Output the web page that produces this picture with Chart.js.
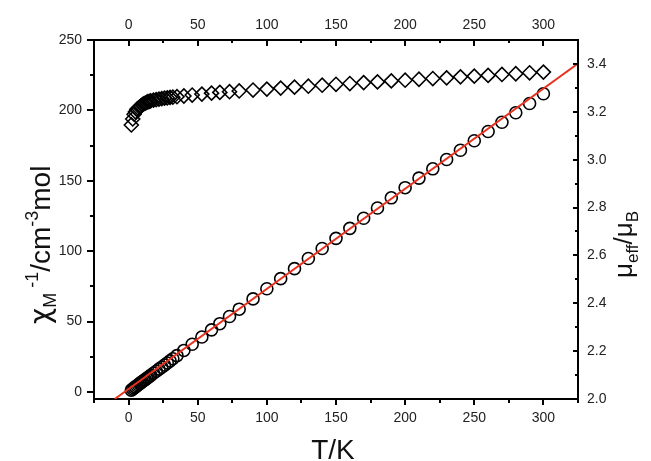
<!DOCTYPE html>
<html>
<head>
<meta charset="utf-8">
<script src="https://cdn.jsdelivr.net/npm/chart.js@4.4.0/dist/chart.umd.min.js"></script>
<style>
  html, body { margin: 0; padding: 0; background: #fff; }
  #wrap { width: 651px; height: 461px; }
</style>
</head>
<body>
<div id="wrap"><canvas id="susceptibility-chart"></canvas></div>
<script>
// Temperature points (K), shared by both series
const temps = [2, 3, 4, 5, 6, 7, 8, 9, 10, 11, 12, 13, 14, 15, 16, 18, 20, 22, 24, 26, 28, 30, 32, 35,
  40, 46, 53, 60, 66, 73, 80, 90, 100, 110, 120, 130, 140, 150, 160, 170, 180, 190, 200,
  210, 220, 230, 240, 250, 260, 270, 280, 290, 300];
// chi_M^-1 (cm^-3 mol), left axis, circles
const chiInv = [1.3, 2.1, 2.9, 3.6, 4.4, 5.1, 5.9, 6.6, 7.4, 8.1, 8.8, 9.6, 10.3, 11.0, 11.8, 13.3, 14.7, 16.2, 17.6, 19.1, 20.6, 22.1, 23.6, 25.8,
  29.5, 33.9, 39.0, 44.1, 48.5, 53.6, 58.8, 66.1, 73.3, 80.5, 87.6, 94.8, 101.9, 109.1, 116.2, 123.4, 130.7, 137.9, 145.1,
  151.9, 158.5, 165.1, 171.7, 178.4, 185.0, 191.6, 198.3, 204.9, 211.8];
// mu_eff / mu_B, right axis, diamonds
const muEff = [3.145, 3.17, 3.19, 3.20, 3.21, 3.215, 3.22, 3.225, 3.23, 3.233, 3.236, 3.239, 3.242, 3.244, 3.246, 3.249, 3.251, 3.253, 3.255, 3.257, 3.258, 3.26, 3.261, 3.263,
  3.266, 3.27, 3.274, 3.278, 3.281, 3.284, 3.287, 3.291, 3.295, 3.299, 3.303, 3.307, 3.311, 3.315, 3.318, 3.322, 3.325, 3.329, 3.332,
  3.336, 3.339, 3.342, 3.346, 3.349, 3.352, 3.356, 3.359, 3.363, 3.366];
// Curie-Weiss fit line end points
const fitT = [-10, 325];
const fitChiInv = [-5, 233.3];

const tempTicks = [0, 50, 100, 150, 200, 250, 300];
const chiTicks = [0, 50, 100, 150, 200, 250];
const muTicks = [2.0, 2.2, 2.4, 2.6, 2.8, 3.0, 3.2, 3.4];

const toPoints = (xs, ys) => xs.map((x, i) => ({ x: x, y: ys[i] }));
const setTicks = (vals) => (scale) => { scale.ticks = vals.map(v => ({ value: v })); };

// midpoints between major ticks, plus half steps past the ends if still on the axis
function minorsOf(vals, min, max) {
  const step = vals[1] - vals[0];
  const out = [];
  for (let v = vals[0] - step / 2; v <= max + 1e-9; v += step) {
    if (v >= min - 1e-9) out.push(v);
  }
  return out;
}

const SANS = '"Liberation Sans", Arial, sans-serif';

function richText(ctx, x, y, parts) {
  // parts: [text, fontSize, baselineShift, family?]
  let pos = 0;
  ctx.save();
  ctx.translate(x, y);
  ctx.rotate(-Math.PI / 2);
  ctx.textBaseline = 'alphabetic';
  ctx.textAlign = 'left';
  parts.forEach(p => {
    ctx.font = p[1] + 'px ' + (p[3] || SANS);
    ctx.fillText(p[0], pos, p[2]);
    pos += ctx.measureText(p[0]).width;
  });
  ctx.restore();
}

const axisDecor = {
  id: 'axisDecor',
  afterDraw(chart) {
    const ctx = chart.ctx;
    const a = chart.chartArea;
    const s = chart.scales;
    ctx.save();
    ctx.strokeStyle = '#000';
    ctx.lineWidth = 2;
    const mark = (scale, vals, len, side) => {
      vals.forEach(v => {
        const p = Math.round(scale.getPixelForValue(v));
        ctx.beginPath();
        if (side === 'bottom') { ctx.moveTo(p, a.bottom); ctx.lineTo(p, a.bottom + len); }
        if (side === 'top') { ctx.moveTo(p, a.top); ctx.lineTo(p, a.top + len); }
        if (side === 'left') { ctx.moveTo(a.left, p); ctx.lineTo(a.left - len, p); }
        if (side === 'right') { ctx.moveTo(a.right, p); ctx.lineTo(a.right - len, p); }
        ctx.stroke();
      });
    };
    mark(s.x, tempTicks, 6, 'bottom');
    mark(s.x, minorsOf(tempTicks, -25, 325), 4, 'bottom');
    mark(s.x2, tempTicks, 6, 'top');
    mark(s.x2, minorsOf(tempTicks, -25, 325), 3, 'top');
    mark(s.y, chiTicks, 7, 'left');
    mark(s.y, minorsOf(chiTicks, -5, 250), 4, 'left');
    mark(s.y2, muTicks, 5, 'right');
    mark(s.y2, minorsOf(muTicks, 2.0, 3.5), 3, 'right');

    // axis titles
    ctx.fillStyle = '#111';
    ctx.font = '28px ' + SANS;
    ctx.textAlign = 'center';
    ctx.textBaseline = 'alphabetic';
    ctx.fillText('T/K', 333, 459);
    richText(ctx, 50, 324, [['χ', 28, 0, '"DejaVu Sans", sans-serif'], ['M', 18, 6], [' -1', 18, -12], ['/cm', 28, 0], ['-3', 18, -12], ['mol', 28, 0]]);
    richText(ctx, 632, 278, [['μ', 26, 0], ['eff', 17, 6], ['/μ', 26, 0], ['B', 17, 6]]);
    ctx.restore();
  }
};

const ctx = document.getElementById('susceptibility-chart');
const tickFont = { family: SANS, size: 14 };

new Chart(ctx, {
  type: 'scatter',
  data: {
    datasets: [
      {
        type: 'line',
        data: toPoints(fitT, fitChiInv),
        borderColor: '#e8321e',
        borderWidth: 2,
        pointRadius: 0,
        fill: false,
        xAxisID: 'x',
        yAxisID: 'y',
        order: 0
      },
      {
        data: toPoints(temps, chiInv),
        pointStyle: 'circle',
        pointRadius: 6,
        borderColor: '#000',
        borderWidth: 1.6,
        backgroundColor: 'rgba(0,0,0,0)',
        xAxisID: 'x',
        yAxisID: 'y',
        order: 1
      },
      {
        data: toPoints(temps, muEff),
        pointStyle: 'rectRot',
        pointRadius: 7,
        borderColor: '#000',
        borderWidth: 1.6,
        backgroundColor: 'rgba(0,0,0,0)',
        xAxisID: 'x',
        yAxisID: 'y2',
        order: 2
      }
    ]
  },
  options: {
    responsive: true,
    maintainAspectRatio: false,
    animation: false,
    layout: { padding: 0 },
    plugins: {
      legend: { display: false },
      tooltip: { enabled: false }
    },
    scales: {
      x: {
        type: 'linear', position: 'bottom', min: -25, max: 325,
        afterBuildTicks: setTicks(tempTicks),
        afterFit: (s) => { s.height = 62; },
        grid: { display: false, drawTicks: false },
        border: { display: true, color: '#000', width: 2 },
        ticks: { color: '#222', font: tickFont, padding: 11, maxRotation: 0 }
      },
      x2: {
        type: 'linear', position: 'top', min: -25, max: 325,
        afterBuildTicks: setTicks(tempTicks),
        afterFit: (s) => { s.height = 40; },
        grid: { display: false, drawTicks: false },
        border: { display: true, color: '#000', width: 2 },
        ticks: { color: '#222', font: tickFont, padding: 6, maxRotation: 0 }
      },
      y: {
        type: 'linear', position: 'left', min: -5, max: 250,
        afterBuildTicks: setTicks(chiTicks),
        afterFit: (s) => { s.width = 94; },
        grid: { display: false, drawTicks: false },
        border: { display: true, color: '#000', width: 2 },
        ticks: { color: '#222', font: tickFont, padding: 12 }
      },
      y2: {
        type: 'linear', position: 'right', min: 2.0, max: 3.5,
        afterBuildTicks: setTicks(muTicks),
        afterFit: (s) => { s.width = 73; },
        grid: { display: false, drawTicks: false },
        border: { display: true, color: '#000', width: 2 },
        ticks: { color: '#222', font: tickFont, padding: 9, callback: (v) => v.toFixed(1) }
      }
    }
  },
  plugins: [axisDecor]
});
</script>
</body>
</html>
